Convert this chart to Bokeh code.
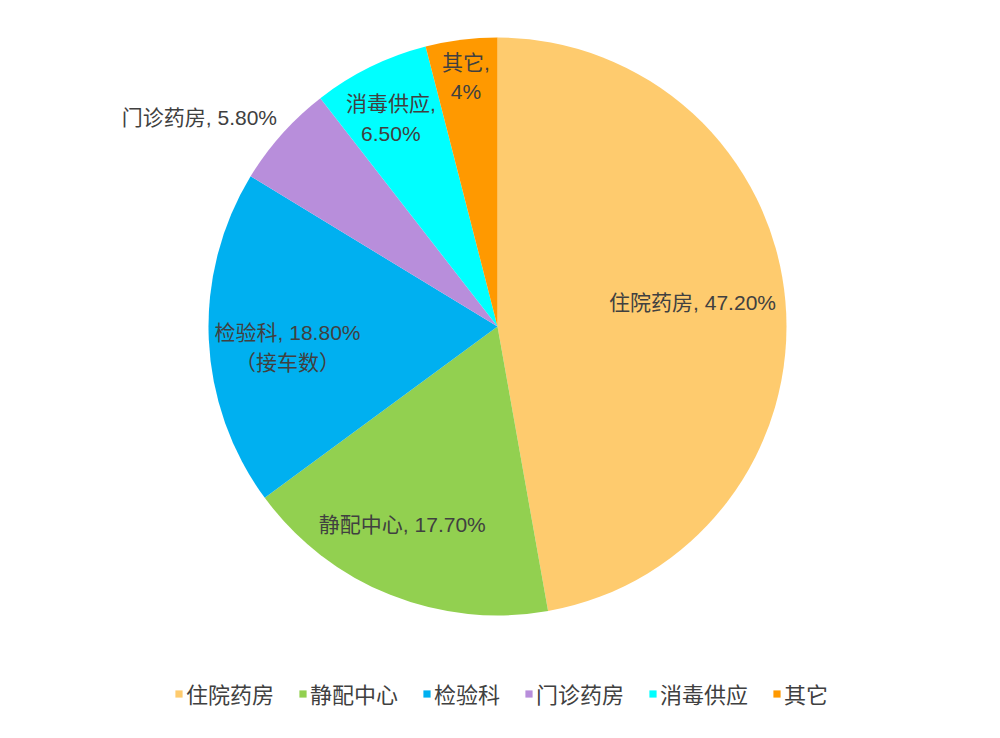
import math
from bokeh.plotting import figure
from bokeh.models import ColumnDataSource, Range1d, Legend, LegendItem
from bokeh.core.properties import value
from bokeh.embed import file_html
from bokeh.resources import INLINE

categories = ["住院药房", "静配中心", "检验科", "门诊药房", "消毒供应", "其它"]
shares = [47.2, 17.7, 18.8, 5.8, 6.5, 4.0]
label_texts = ["住院药房, 47.20%", "静配中心, 17.70%", "检验科, 18.80%\n（接车数）",
               "门诊药房, 5.80%", "消毒供应,\n6.50%", "其它,\n4%"]
colors = ["#FECB6E", "#92D050", "#00B0F0", "#B88EDB", "#00FFFF", "#FF9900"]
label_radius_factor = [0.68, 0.76, 0.73, 1.26, 0.81, 0.87]
label_angle_shift_deg = [2.0, -3.9, 3.1, 6.7, 1.0, 0.0]

W, H = 984, 722
CX, CY, R = 497, 738 - 326, 289
FONT_STR = "'Liberation Sans', 'Noto Sans CJK SC'"
FONT = value(FONT_STR)

total = sum(shares)
starts, ends, lx, ly = [], [], [], []
a = math.pi / 2
for s, f, sh in zip(shares, label_radius_factor, label_angle_shift_deg):
    span = 2 * math.pi * s / total
    starts.append(a - span)
    ends.append(a)
    mid = a - span / 2 + math.radians(sh)
    lx.append(CX + f * R * math.cos(mid))
    ly.append(CY + f * R * math.sin(mid))
    a -= span

src = ColumnDataSource(dict(cat=categories, start=starts, end=ends, color=colors,
                            lx=lx, ly=ly, txt=label_texts))

p = figure(width=W, height=H, output_backend="svg", toolbar_location=None,
           x_range=Range1d(0, W), y_range=Range1d(738 - H, 738),
           min_border=0, outline_line_color=None)
p.axis.visible = False
p.grid.visible = False

wr = p.wedge(x=CX, y=CY, radius=R, start_angle="start", end_angle="end",
             fill_color="color", line_color=None, source=src)

p.text(x="lx", y="ly", text="txt", source=src, text_align="center",
       text_baseline="middle", text_font=FONT, text_font_size="21px",
       text_color="#404040", text_line_height=1.3)

items = [LegendItem(label=c, renderers=[wr], index=i) for i, c in enumerate(categories)]
legend = Legend(items=items, orientation="horizontal", location=(174, 13),
                glyph_width=9, glyph_height=9, label_standoff=3, spacing=24,
                label_text_font=FONT_STR, label_text_font_size="22px",
                label_text_color="#404040", border_line_color=None,
                background_fill_alpha=0, padding=0, margin=0)
p.add_layout(legend)

open("out.html", "w").write(file_html(p, INLINE))
